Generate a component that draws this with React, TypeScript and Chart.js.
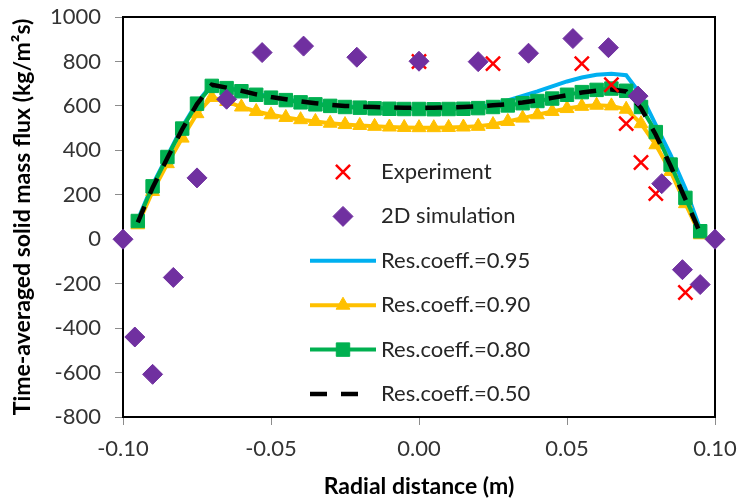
import React, { useEffect, useRef } from 'react';
import { Chart, registerables } from 'chart.js';
import { drawPoint } from 'chart.js/helpers';

Chart.register(...registerables);

// Radial sampling positions of the CFD profiles (m)
const radialPositions = [
  -0.095, -0.09, -0.085, -0.08, -0.075, -0.07, -0.065, -0.06, -0.055, -0.05,
  -0.045, -0.04, -0.035, -0.03, -0.025, -0.02, -0.015, -0.01, -0.005, 0,
  0.005, 0.01, 0.015, 0.02, 0.025, 0.03, 0.035, 0.04, 0.045, 0.05,
  0.055, 0.06, 0.065, 0.07, 0.075, 0.08, 0.085, 0.09, 0.095,
];

// Time-averaged solid mass flux for each restitution coefficient (kg/m²s)
const flux095 = [
  88, 245, 375, 505, 615, 695, 684, 670, 655, 642,
  630, 620, 611, 604, 598, 594, 591, 589, 588, 587,
  587, 588, 590, 594, 605, 625, 645, 665, 688, 710,
  728, 740, 745, 738, 650, 515, 380, 228, 45,
];
const flux090 = [
  65, 215, 340, 455, 565, 638, 620, 595, 575, 560,
  548, 538, 530, 522, 516, 512, 508, 505, 503, 502,
  502, 503, 505, 508, 516, 530, 545, 560, 575, 588,
  598, 603, 600, 585, 520, 425, 305, 160, 20,
];
const flux080 = [
  82, 238, 370, 498, 610, 690, 680, 666, 650, 637,
  626, 616, 607, 600, 595, 592, 589, 587, 586, 586,
  585, 586, 587, 590, 595, 602, 612, 622, 633, 650,
  662, 672, 678, 668, 595, 482, 336, 186, 36,
];
const flux050 = [
  76, 232, 365, 495, 608, 695, 682, 668, 652, 640,
  630, 620, 612, 605, 600, 597, 595, 593, 592, 592,
  592, 593, 595, 598, 603, 608, 615, 625, 636, 648,
  660, 668, 674, 665, 590, 470, 330, 180, 28,
];

// Measured flux
const experimentX = [0.0, 0.025, 0.055, 0.065, 0.07, 0.075, 0.08, 0.09];
const experimentFlux = [800, 790, 790, 695, 520, 345, 205, -240];

// 2D simulation flux
const simulation2dX = [
  -0.1, -0.096, -0.09, -0.083, -0.075, -0.065, -0.053, -0.039, -0.021, 0.0,
  0.02, 0.037, 0.052, 0.064, 0.074, 0.082, 0.089, 0.095, 0.1,
];
const simulation2dFlux = [
  0, -440, -608, -172, 276, 630, 840, 869, 819, 801,
  799, 837, 903, 862, 644, 250, -137, -204, 0,
];

const xTickValues = [-0.1, -0.05, 0, 0.05, 0.1];
const yTickValues = [-800, -600, -400, -200, 0, 200, 400, 600, 800, 1000];

const FONT = 'Lato, "Open Sans", sans-serif';

const pairs = (xs: number[], ys: number[]) => xs.map((x, i) => ({ x, y: ys[i] }));

// Keep the plot area fixed: tick labels may overhang into the layout padding
const clearScalePadding = (scale: any) => {
  scale.paddingTop = 0;
  scale.paddingBottom = 0;
  scale.paddingLeft = 0;
  scale.paddingRight = 0;
};

// Closes the plot box on the top and right sides
const framePlugin = {
  id: 'plotFrame',
  beforeDatasetsDraw(chart: any) {
    const { ctx, chartArea } = chart;
    ctx.save();
    ctx.strokeStyle = '#000';
    ctx.lineWidth = 2;
    ctx.beginPath();
    ctx.moveTo(chartArea.left, chartArea.top);
    ctx.lineTo(chartArea.right, chartArea.top);
    ctx.lineTo(chartArea.right, chartArea.bottom);
    ctx.stroke();
    ctx.restore();
  },
};

// Single-column legend placed inside the plot area
const insetLegendPlugin = {
  id: 'insetLegend',
  afterDraw(chart: any) {
    const { ctx } = chart;
    const order = [4, 5, 0, 1, 2, 3];
    const top = 172;
    const rowGap = 44.4;
    const lineStart = 310;
    const lineEnd = 376;
    const markerX = 343;
    const textX = 381;
    ctx.save();
    order.forEach((idx, row) => {
      const ds = chart.data.datasets[idx];
      const y = top + row * rowGap;
      if (ds.showLine) {
        ctx.save();
        ctx.strokeStyle = ds.borderColor;
        ctx.lineWidth = ds.borderWidth;
        const dashed = Array.isArray(ds.borderDash) && ds.borderDash.length > 0;
        ctx.setLineDash(dashed ? ds.borderDash : []);
        ctx.beginPath();
        ctx.moveTo(lineStart, y);
        ctx.lineTo(dashed ? lineEnd - 6 : lineEnd, y);
        ctx.stroke();
        ctx.restore();
      }
      if (ds.pointRadius > 0) {
        ctx.save();
        ctx.fillStyle = ds.pointBackgroundColor;
        ctx.strokeStyle = ds.pointBorderColor;
        ctx.lineWidth = ds.pointBorderWidth;
        drawPoint(
          ctx,
          {
            pointStyle: ds.pointStyle,
            radius: ds.pointRadius,
            borderWidth: ds.pointBorderWidth,
            rotation: 0,
          },
          markerX,
          y,
        );
        ctx.restore();
      }
      ctx.fillStyle = '#262626';
      ctx.font = `22px ${FONT}`;
      ctx.textBaseline = 'middle';
      ctx.textAlign = 'left';
      ctx.fillText(ds.label, textX, y);
    });
    ctx.restore();
  },
};

export default function App() {
  const canvasRef = useRef<HTMLCanvasElement | null>(null);

  useEffect(() => {
    const canvas = canvasRef.current;
    if (!canvas) return;

    const chart = new Chart(canvas, {
      type: 'scatter',
      data: {
        datasets: [
          {
            label: 'Res.coeff.=0.95',
            data: pairs(radialPositions, flux095),
            showLine: true,
            borderColor: '#00B0F0',
            backgroundColor: '#00B0F0',
            borderWidth: 4,
            pointRadius: 0,
            clip: false,
            order: 5,
          },
          {
            label: 'Res.coeff.=0.90',
            data: pairs(radialPositions, flux090),
            showLine: true,
            borderColor: '#FFC000',
            backgroundColor: '#FFC000',
            borderWidth: 4,
            pointStyle: 'triangle',
            pointRadius: 8,
            pointBackgroundColor: '#FFC000',
            pointBorderColor: '#FFC000',
            pointBorderWidth: 1,
            clip: false,
            order: 4,
          },
          {
            label: 'Res.coeff.=0.80',
            data: pairs(radialPositions, flux080),
            showLine: true,
            borderColor: '#00B050',
            backgroundColor: '#00B050',
            borderWidth: 4,
            pointStyle: 'rect',
            pointRadius: 9.5,
            pointBackgroundColor: '#00B050',
            pointBorderColor: '#00B050',
            pointBorderWidth: 1,
            clip: false,
            order: 3,
          },
          {
            label: 'Res.coeff.=0.50',
            data: pairs(radialPositions, flux050),
            showLine: true,
            borderColor: '#000000',
            backgroundColor: '#000000',
            borderWidth: 4.5,
            borderDash: [17, 14],
            pointRadius: 0,
            clip: false,
            order: 2,
          },
          {
            label: 'Experiment',
            data: pairs(experimentX, experimentFlux),
            showLine: false,
            pointStyle: 'crossRot',
            pointRadius: 10,
            pointBackgroundColor: '#FF0000',
            pointBorderColor: '#FF0000',
            pointBorderWidth: 2.5,
            borderColor: '#FF0000',
            backgroundColor: '#FF0000',
            clip: false,
            order: 1,
          },
          {
            label: '2D simulation',
            data: pairs(simulation2dX, simulation2dFlux),
            showLine: false,
            pointStyle: 'rectRot',
            pointRadius: 10,
            pointBackgroundColor: '#7030A0',
            pointBorderColor: '#7030A0',
            pointBorderWidth: 1,
            borderColor: '#7030A0',
            backgroundColor: '#7030A0',
            clip: false,
            order: 0,
          },
        ] as any,
      },
      options: {
        responsive: false,
        animation: false,
        devicePixelRatio: 1,
        layout: { padding: { top: 17, right: 25, left: 0, bottom: 0 } },
        plugins: {
          legend: { display: false },
          tooltip: { enabled: false },
        },
        elements: { line: { tension: 0 } },
        scales: {
          x: {
            type: 'linear',
            min: -0.1,
            max: 0.1,
            afterBuildTicks: (scale: any) => {
              scale.ticks = xTickValues.map((value) => ({ value }));
            },
            afterFit: (scale: any) => {
              scale.height = 83;
              clearScalePadding(scale);
            },
            grid: {
              display: true,
              drawOnChartArea: false,
              drawTicks: true,
              tickLength: 8,
              color: '#8c8c8c',
              lineWidth: 1,
            },
            border: { display: true, color: '#000', width: 2 },
            ticks: {
              color: '#333',
              font: { family: FONT, size: 22 },
              padding: 11,
              maxRotation: 0,
              autoSkip: false,
              callback: (v: any) => Number(v).toFixed(2),
            },
            title: {
              display: true,
              text: 'Radial distance (m)',
              color: '#000',
              font: { family: FONT, size: 23, weight: 'bold' },
              padding: { top: 0, bottom: 0 },
            },
          },
          y: {
            type: 'linear',
            min: -800,
            max: 1000,
            afterBuildTicks: (scale: any) => {
              scale.ticks = yTickValues.map((value) => ({ value }));
            },
            afterFit: (scale: any) => {
              scale.width = 123;
              clearScalePadding(scale);
            },
            grid: {
              display: true,
              drawOnChartArea: false,
              drawTicks: true,
              tickLength: 8,
              color: '#8c8c8c',
              lineWidth: 1,
            },
            border: { display: true, color: '#000', width: 2 },
            ticks: {
              color: '#333',
              font: { family: FONT, size: 22 },
              padding: 14,
              autoSkip: false,
              callback: (v: any) => String(v),
            },
            title: {
              display: true,
              text: 'Time-averaged solid mass flux (kg/m²s)',
              color: '#000',
              font: { family: FONT, size: 23, weight: 'bold' },
              padding: { top: 9, bottom: 0 },
            },
          },
        },
      } as any,
      plugins: [framePlugin, insetLegendPlugin],
    });

    return () => chart.destroy();
  }, []);

  return (
    <div style={{ position: 'fixed', left: 0, top: 0, width: 740, height: 500, background: '#fff' }}>
      <canvas ref={canvasRef} width={740} height={500} />
    </div>
  );
}
